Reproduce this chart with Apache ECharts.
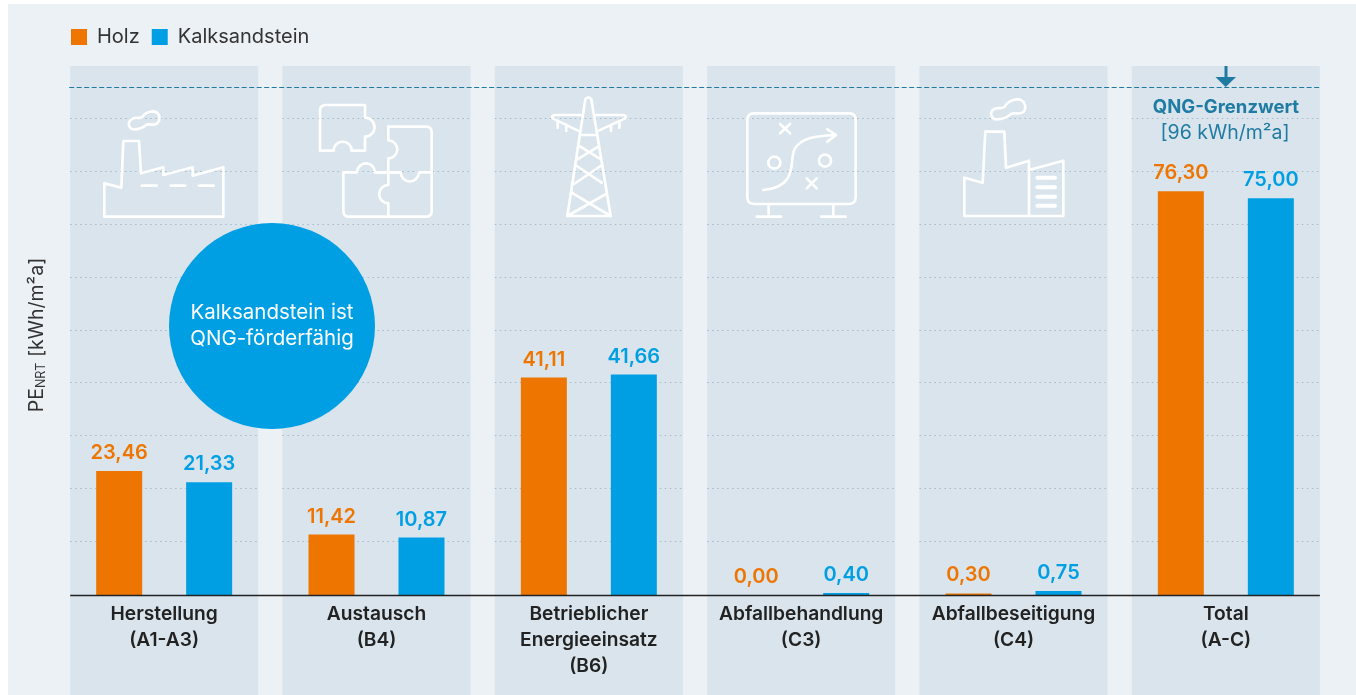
<!DOCTYPE html>
<html><head><meta charset="utf-8">
<style>html,body{margin:0;padding:0;background:#fff;overflow:hidden}
#bg{position:absolute;left:8px;top:4px;right:0;bottom:0;background:#ebf1f5}
#chart{position:absolute;left:0;top:0;width:1356px;height:695px}</style>
<script src="https://cdn.jsdelivr.net/npm/echarts@6/dist/echarts.min.js"></script>
</head><body><div id="bg"></div><div id="chart"></div>
<script>
const categories = ['Herstellung\n(A1-A3)','Austausch\n(B4)','Betrieblicher\nEnergieeinsatz\n(B6)','Abfallbehandlung\n(C3)','Abfallbeseitigung\n(C4)','Total\n(A-C)'];
const holz = [23.46,11.42,41.11,0.00,0.30,76.30];
const kalksandstein = [21.33,10.87,41.66,0.40,0.75,75.00];
const gridValues = [10,20,30,40,50,60,70,80,90];
const limitValue = 96;
const FONT = 'Inter';
const ORANGE='#ee7600', BLUE='#009fe3', TEAL='#1f7ba2', BAND='#d9e4ec', INK='#222222';
const BAND_RATIO = 188/212.33;

const fmt = p => p.value.toFixed(2).replace('.',',');
function valueLabel(color){return {show:true,position:'top',distance:8,formatter:fmt,color,fontFamily:FONT,fontSize:20,fontWeight:600};}

function bandItem(params, api){
  const i = api.value(0);
  const c = api.coord([i,100]);
  const w = api.size([1,0])[0]*BAND_RATIO;
  const x = c[0]-w/2;
  const children = [{type:'rect',shape:{x,y:c[1],width:w,height:api.getHeight()-c[1]},style:{fill:BAND}}];
  gridValues.forEach(v=>{
    const y = Math.round(api.coord([i,v])[1])-0.5;
    children.push({type:'line',shape:{x1:x,y1:y,x2:x+w,y2:y},style:{stroke:'#a6bac9',lineWidth:1,lineDash:[1.5,3.5]}});
  });
  return {type:'group',children};
}
function refLine(params, api){
  const half = api.size([1,0])[0]*BAND_RATIO/2;
  const a = api.coord([api.value(0),api.value(2)]);
  const b = api.coord([api.value(1),api.value(2)]);
  const dashed = api.value(3)===1;
  return {type:'line',shape:{x1:a[0]-half-(dashed?1:0),y1:Math.round(a[1])+0.5,x2:b[0]+half,y2:Math.round(a[1])+0.5},
    style:{stroke:dashed?TEAL:'#222',lineWidth:dashed?1.1:1.5,lineDash:dashed?[5,2.5]:null}};
}

const S = {stroke:'#fff',lineWidth:8,fill:null,lineCap:'round',lineJoin:'round'};
function icon(x,y,paths,lw){return {type:'group',x,y,scaleX:1/3,scaleY:1/3,silent:true,
  children:paths.map(d=>({type:'path',shape:{pathData:d},style:lw?{...S,lineWidth:lw}:S}))};}

function iconItem(){ return {type:'group',children:[
 icon(60,0,[
  'M133,550 L133,650 L490,650 L490,502 L398,527 L398,502 L310,525 L310,502 L243,520 L237,423 L190,423 L184,563 Z',
  'M245,557 H290 M332,557 H376 M417,557 H461',
  'M222,388 C205,388 200,365 218,356 C228,350 236,356 246,352 C254,340 268,334 280,334 C300,336 304,360 290,371 C280,378 268,370 258,375 C250,383 240,388 222,388 Z'
 ]),
 icon(60,0,[
  'M798,315 H915 V353 A27,27 0 1 1 915,410 V452 H875 A27,27 0 1 0 821,452 H780 V333 Q780,315 798,315 Z',
  'M985,380 H1098 Q1115,380 1115,397 V632 Q1115,650 1098,650 H868 Q850,650 850,632 V517 H891 A27,27 0 1 1 945,517 H1022 A27,27 0 1 0 1077,517 H1115',
  'M985,380 V421 A27,27 0 1 1 985,475 V555 A27,27 0 1 0 985,610 V650 M945,517 H1022'
 ]),
 icon(480,60,[
  'M262,468 L316,118 Q325,106 334,118 L392,468 Z',
  'M305,165 H225 Q212,168 218,175 L300,215 M345,165 H430 Q442,168 435,175 L350,215',
  'M233,185 V203 M259,195 V213 M393,195 V213 M418,185 V203',
  'M300,225 H350 M298,258 L358,295 M355,260 L292,298 M290,318 L365,368 M362,318 L282,372 M275,398 L392,468 M378,402 L262,468'
 ]),
 icon(480,60,[
  'M822,160 H1107 Q1127,160 1127,180 V412 Q1127,432 1107,432 H822 Q802,432 802,412 V180 Q802,160 822,160 Z',
  'M866,432 V468 M830,470 H903 M1060,432 V468 M1024,470 H1097',
  'M850,390 C960,382 925,295 945,265 C965,232 1010,228 1065,225 M1042,208 L1068,225 L1042,245',
  'M865,308 A18,18 0 1 0 901,308 A18,18 0 1 0 865,308 Z M1017,302 A18,18 0 1 0 1053,302 A18,18 0 1 0 1017,302 Z',
  'M900,192 L930,220 M930,192 L900,220 M980,355 L1010,385 M1010,355 L980,385'
 ]),
 icon(900,60,[
  'M193,468 H490 V302 L387,330 V302 L318,323 L313,215 H256 L248,368 L193,353 Z',
  'M387,330 V468',
  'M290,178 C272,178 266,155 284,146 C294,142 304,148 314,140 C320,127 338,118 352,118 C375,118 383,145 368,157 C358,165 344,157 334,161 C324,171 310,178 290,178 Z'
 ]),
 icon(900,60,['M412,353 H465 M412,382 H465 M412,410 H465 M412,437 H465'],12)
]};}

const graphic = [
 {type:'circle',shape:{cx:272,cy:326,r:103},style:{fill:BLUE},z:4,silent:true},
 {type:'text',x:272,y:326,z:5,silent:true,style:{text:'Kalksandstein ist\nQNG-förderfähig',fill:'#fff',font:'400 20.5px '+FONT,align:'center',verticalAlign:'middle',lineHeight:26}},
 {type:'rect',shape:{x:1224.5,y:66,width:3,height:12},style:{fill:TEAL},z:4,silent:true},
 {type:'polygon',shape:{points:[[1215.5,77],[1236,77],[1225.7,87]]},style:{fill:TEAL},z:4,silent:true},
 {type:'text',x:1226,y:107,z:5,silent:true,style:{text:'QNG-Grenzwert',fill:TEAL,font:'700 18.5px '+FONT,align:'center',verticalAlign:'middle'}},
 {type:'text',x:1225,y:133,z:5,silent:true,style:{text:'[96 kWh/m²a]',fill:TEAL,font:'400 19.5px '+FONT,align:'center',verticalAlign:'middle'}}
];

const chart = echarts.init(document.getElementById('chart'),null,{renderer:'canvas'});
chart.setOption({
  animation:false,
  backgroundColor:'transparent',
  textStyle:{fontFamily:FONT},
  legend:{left:71,top:27,padding:0,itemWidth:16,itemHeight:16,itemGap:12,icon:'rect',data:['Holz','Kalksandstein'],
    textStyle:{fontFamily:FONT,fontSize:20,color:'#333',padding:[0,0,2,5]}},
  grid:{left:58,right:24,top:66,bottom:100,containLabel:false},
  xAxis:{type:'category',data:categories,axisLine:{show:false},axisTick:{show:false},
    axisLabel:{color:INK,fontFamily:FONT,fontSize:19.2,fontWeight:600,lineHeight:26,margin:6,interval:0}},
  yAxis:{type:'value',min:0,max:100,interval:10,splitLine:{show:false},axisLine:{show:false},axisTick:{show:false},axisLabel:{show:false},
    name:'{b|PE}{s|NRT}{b| [kWh/m²a]}',nameLocation:'middle',nameGap:10,nameRotate:90,
    nameTextStyle:{padding:[0,9,0,0],rich:{b:{fontFamily:FONT,fontSize:19.5,color:'#333',lineHeight:22},s:{fontFamily:FONT,fontSize:12.5,color:'#333',verticalAlign:'bottom',lineHeight:22}}}},
  series:[
    {type:'custom',name:'bands',silent:true,z:0,clip:false,renderItem:bandItem,data:categories.map((c,i)=>[i]),encode:{x:0,y:-1}},
    {type:'custom',name:'icons',silent:true,z:1,clip:false,renderItem:iconItem,data:[[0]],encode:{x:0,y:-1}},
    {type:'bar',name:'Holz',data:holz,barWidth:46,barGap:'95.6%',itemStyle:{color:ORANGE},label:valueLabel(ORANGE),z:2},
    {type:'bar',name:'Kalksandstein',data:kalksandstein,barWidth:46,itemStyle:{color:BLUE},label:valueLabel(BLUE),z:2},
    {type:'custom',name:'refs',silent:true,z:3,clip:false,renderItem:refLine,data:[[0,5,limitValue,1],[0,5,0,0]],encode:{x:[0,1],y:2}}
  ],
  graphic
});
</script></body></html>
